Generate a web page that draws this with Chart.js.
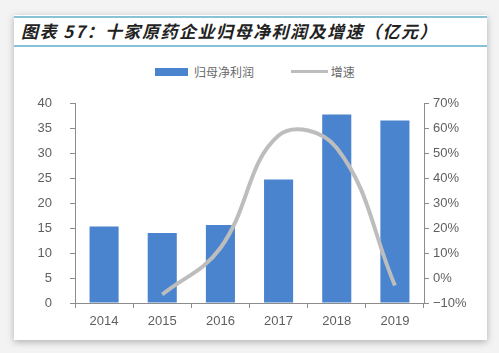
<!DOCTYPE html>
<html>
<head>
<meta charset="utf-8">
<script src="https://cdn.jsdelivr.net/npm/chart.js@4.4.1/dist/chart.umd.min.js"></script>
<style>
  html, body { margin: 0; padding: 0; }
  body { width: 499px; height: 353px; background: #f3f3f3; position: relative; overflow: hidden; }
  #card { position: absolute; left: 14px; top: 15px; width: 473px; height: 325px; background: #fff;
    box-shadow: 0 2px 7px rgba(0,0,0,0.28); }
  #title { position: absolute; left: 14px; top: 16px; width: 473px; height: 27px; border-top: 2px solid #86c3d6;
    border-bottom: 2px solid #86c3d6; background: #fff; }
  #title span { position: absolute; left: 7px; top: 3px; font-family: "Noto Sans CJK SC", sans-serif; font-weight: bold;
    font-style: italic; font-size: 17px; letter-spacing: 1.5px; color: #222; white-space: nowrap; line-height: 20px; }
  #legend { position: absolute; top: 61px; left: 155px; font-family: "Noto Sans CJK SC", sans-serif; font-size: 12px; color: #6a6a6a; white-space: nowrap; }
  #legend .sw { display: inline-block; vertical-align: middle; }
  #legend .t { display: inline-block; vertical-align: middle; margin-left: 6px; }
  #chartBox { position: absolute; left: 0; top: 0; width: 499px; height: 353px; }
</style>
</head>
<body>
<div id="card"></div>
<div id="title"><span>图表 57：十家原药企业归母净利润及增速（亿元）</span></div>
<div id="legend">
  <span class="sw" style="width:33px;height:8px;background:#4a84cf;"></span><span class="t">归母净利润</span>
  <span class="sw" style="width:37px;height:3px;background:#bdbdbd;margin-left:34px;"></span><span class="t" style="margin-left:3px;">增速</span>
</div>
<div id="chartBox"><canvas id="barChart" width="499" height="353"></canvas></div>
<script>
// DATA
const years = ["2014", "2015", "2016", "2017", "2018", "2019"];
const netProfit = [15.3, 14.0, 15.6, 24.7, 37.7, 36.5];
const growth = [null, -6.6, 12, 57, 52, -3];

const axisGray = "#8c8c8c";
const labelGray = "#5f5f5f";

Chart.defaults.font.family = "'Liberation Sans', Arial, sans-serif";
Chart.defaults.font.size = 13;
Chart.defaults.color = labelGray;

var ctx = document.getElementById("barChart");
var barChart = new Chart(ctx, {
  type: "bar",
  data: {
    labels: years,
    datasets: [
      {
        type: "line",
        label: "增速",
        data: growth,
        yAxisID: "y1",
        borderColor: "#bdbdbd",
        borderWidth: 4,
        pointRadius: 0,
        tension: 0.4,
        fill: false,
        order: 0,
      },
      {
        label: "归母净利润",
        data: netProfit,
        yAxisID: "y",
        backgroundColor: "#4a84cf",
        barPercentage: 0.5,
        categoryPercentage: 1,
        order: 1,
      },
    ],
  },
  options: {
    responsive: false,
    animation: false,
    devicePixelRatio: 1,
    layout: { padding: { top: 103, left: 0, right: 0, bottom: 0 } },
    plugins: { legend: { display: false }, tooltip: { enabled: false } },
    scales: {
      x: {
        grid: { drawOnChartArea: false, tickLength: 5, color: axisGray, offset: true },
        border: { color: axisGray },
        ticks: { padding: 6, color: labelGray },
        afterFit: function (scale) { scale.height = 50; },
      },
      y: {
        position: "left",
        min: 0,
        max: 40,
        ticks: { stepSize: 5, padding: 18, color: labelGray },
        grid: { drawOnChartArea: false, tickLength: 5, color: axisGray },
        border: { color: axisGray },
        afterFit: function (scale) { scale.width = 75; },
      },
      y1: {
        position: "right",
        min: -10,
        max: 70,
        ticks: {
          stepSize: 10,
          padding: 4,
          color: labelGray,
          callback: function (v) { return (v < 0 ? "\u2212" + Math.abs(v) : v) + "%"; },
        },
        grid: { drawOnChartArea: false, tickLength: 5, color: axisGray },
        border: { color: axisGray },
        afterFit: function (scale) { scale.width = 75; },
      },
    },
  },
});
</script>
</body>
</html>
